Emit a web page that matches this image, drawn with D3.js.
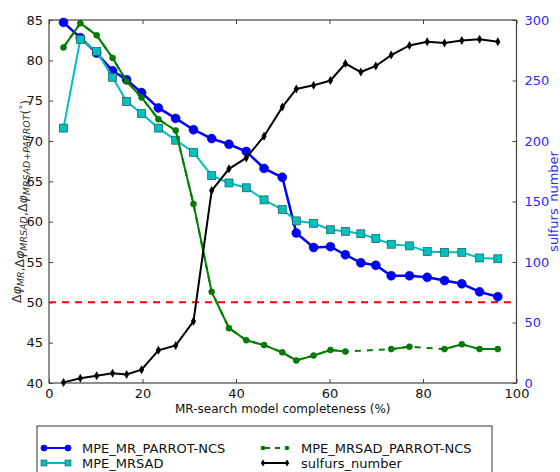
<!DOCTYPE html>
<html><head><meta charset="utf-8">
<script src="https://cdn.jsdelivr.net/npm/d3@7"></script>
<style>body{margin:0;background:#fff} text{font-family:"DejaVu Sans",sans-serif}</style>
</head><body><svg id="c" width="560" height="472"></svg>
<script>
const completeness = [3.1,6.7,10.2,13.6,16.6,19.8,23.4,27.1,30.9,34.8,38.5,42.2,46.0,49.9,52.9,56.6,60.2,63.4,66.7,69.9,73.2,77.1,80.9,84.6,88.3,92.1,96.0];
const mpeMR = [84.7,82.8,80.9,78.7,77.6,76.0,74.1,72.8,71.4,70.3,69.6,68.7,66.6,65.5,58.6,56.8,56.9,55.9,54.9,54.6,53.3,53.3,53.1,52.7,52.3,51.3,50.7];
const mpeMRSAD = [71.6,82.6,81.1,77.9,74.9,73.4,71.6,70.1,68.6,65.7,64.8,64.2,62.7,61.5,60.1,59.8,59.0,58.8,58.5,57.9,57.2,57.0,56.3,56.2,56.2,55.5,55.4];
const mpeMRSADParrot = [81.6,84.6,83.1,80.3,77.4,75.4,72.7,71.3,62.2,51.3,46.8,45.3,44.7,43.8,42.8,43.4,44.1,43.9,null,null,44.2,44.5,null,44.2,44.8,44.2,44.2];
const sulfurs = [0.5,4,6,8,7,11,27,31,51,159,177,186,204,228,243,246,250,264,257,262,271,279,282,281,283,284,282];
const threshold = 50;
const xTicks = [0,20,40,60,80,100];
const yTicks = [40,45,50,55,60,65,70,75,80,85];
const y2Ticks = [0,50,100,150,200,250,300];
const legendLabels = ["MPE_MR_PARROT-NCS","MPE_MRSAD","MPE_MRSAD_PARROT-NCS","sulfurs_number"];

const svg = d3.select("#c");
const L=49, R=516.5, T=20, B=383;
const x = d3.scaleLinear().domain([0,100]).range([L,R]);
const y = d3.scaleLinear().domain([40,85]).range([B,T]);
const y2 = d3.scaleLinear().domain([0,300]).range([B,T]);
const spine="#444", fs=13;

// axes
const bx = svg.append("g").attr("transform",`translate(0,${B})`).call(d3.axisBottom(x).tickValues(xTicks).tickSizeInner(-4).tickSizeOuter(0).tickPadding(6));
const tx = svg.append("g").attr("transform",`translate(0,${T})`).call(d3.axisTop(x).tickValues(xTicks).tickSizeInner(-4).tickSizeOuter(0).tickFormat(""));
const ly = svg.append("g").attr("transform",`translate(${L},0)`).call(d3.axisLeft(y).tickValues(yTicks).tickSizeInner(-4).tickSizeOuter(0).tickPadding(6));
const ry = svg.append("g").attr("transform",`translate(${R},0)`).call(d3.axisRight(y2).tickValues(y2Ticks).tickSizeInner(-4).tickSizeOuter(0).tickPadding(8));
[bx,tx,ly,ry].forEach(g=>{g.selectAll(".domain").remove();g.selectAll("line").attr("stroke",spine);g.selectAll("text").attr("font-size",fs).attr("fill","#111").attr("font-family","DejaVu Sans");});
ry.selectAll("text").attr("fill","#2a2aff");
svg.append("rect").attr("x",L).attr("y",T).attr("width",R-L).attr("height",B-T).attr("fill","none").attr("stroke",spine).attr("stroke-width",1.2);

const idx = d3.range(completeness.length);
const line = (ys,sc)=>d3.line().defined(i=>ys[i]!=null).x(i=>x(completeness[i])).y(i=>sc(ys[i]));

// threshold
svg.append("line").attr("x1",x(0)).attr("x2",x(100)).attr("y1",y(threshold)).attr("y2",y(threshold)).attr("stroke","#ff0000").attr("stroke-width",2).attr("stroke-dasharray","7,6");

const plot = svg.append("g");
// blue
plot.append("path").attr("d",line(mpeMR,y)(idx)).attr("fill","none").attr("stroke","#0000ff").attr("stroke-width",2.5);
plot.selectAll(".b").data(idx).enter().append("circle").attr("cx",i=>x(completeness[i])).attr("cy",i=>y(mpeMR[i])).attr("r",4.5).attr("fill","#0000ff").attr("stroke","#00008a").attr("stroke-width",0.5);
// cyan
plot.append("path").attr("d",line(mpeMRSAD,y)(idx)).attr("fill","none").attr("stroke","#00bfbf").attr("stroke-width",2);
plot.selectAll(".c").data(idx).enter().append("rect").attr("x",i=>x(completeness[i])-4).attr("y",i=>y(mpeMRSAD[i])-4).attr("width",8).attr("height",8).attr("fill","#00bfbf").attr("stroke","#1a5a5a").attr("stroke-width",0.7);
// green
const gIdx = idx.filter(i=>mpeMRSADParrot[i]!=null);
plot.append("path").attr("d",d3.line().x(i=>x(completeness[i])).y(i=>y(mpeMRSADParrot[i]))(gIdx)).attr("fill","none").attr("stroke","#008000").attr("stroke-width",2).attr("stroke-dasharray","6,6");
plot.append("path").attr("d",line(mpeMRSADParrot,y)(idx)).attr("fill","none").attr("stroke","#008000").attr("stroke-width",2);
plot.selectAll(".g").data(gIdx).enter().append("circle").attr("cx",i=>x(completeness[i])).attr("cy",i=>y(mpeMRSADParrot[i])).attr("r",3).attr("fill","#008000").attr("stroke","#005000").attr("stroke-width",0.5);
// black
plot.append("path").attr("d",line(sulfurs,y2)(idx)).attr("fill","none").attr("stroke","#000").attr("stroke-width",2);
const diamond = "M0,-4.5L2.6,0L0,4.5L-2.6,0Z";
plot.selectAll(".k").data(idx).enter().append("path").attr("d",diamond).attr("transform",i=>`translate(${x(completeness[i])},${y2(sulfurs[i])})`).attr("fill","#000");

// axis labels
svg.append("text").attr("x",(L+R)/2).attr("y",413).attr("text-anchor","middle").attr("font-size",12).attr("fill","#111").text("MR-search model completeness (%)");
svg.append("text").attr("transform",`translate(558,${(T+B)/2}) rotate(-90)`).attr("text-anchor","middle").attr("font-size",13).attr("fill","#2a2aff").text("sulfurs_number");
const yl = svg.append("text").attr("transform",`translate(21,${(T+B)/2}) rotate(-90)`).attr("text-anchor","middle").attr("font-size",12.5).attr("fill","#333");
const subs = ["MR","MRSAD","MRSAD+PARROT"];
subs.forEach((s,k)=>{
  yl.append("tspan").text((k?",":"")+"Δ");
  yl.append("tspan").attr("font-style","italic").text("φ");
  yl.append("tspan").attr("font-size",9.5).attr("font-style","italic").attr("dy",3).text(s);
  yl.append("tspan").attr("dy",-3).text("");
});
yl.append("tspan").text("(");
yl.append("tspan").attr("font-size",9.5).attr("dy",-4).text("°");
yl.append("tspan").attr("dy",4).text(")");

// legend
svg.append("rect").attr("x",37).attr("y",426).attr("width",455).attr("height",60).attr("fill","#fff").attr("stroke","#333").attr("stroke-width",1);
const legPos = [[44,448],[44,463],[263,448],[263,463]];
const lg = svg.append("g");
const diamondS = "M0,-3.5L2.2,0L0,3.5L-2.2,0Z";
legPos.forEach(([lx,ly2],k)=>{
  const g = lg.append("g").attr("transform",`translate(${lx},${ly2})`);
  const col = ["#0000ff","#00bfbf","#008000","#000"][k];
  g.append("line").attr("x1",0).attr("x2",24).attr("stroke",col).attr("stroke-width",2).attr("stroke-dasharray",k==2?"5,5":null).attr("stroke-dashoffset",k==2?-2:null);
  [0,24].forEach(px=>{
    if(k==0) g.append("circle").attr("cx",px).attr("r",3.3).attr("fill",col);
    if(k==1) g.append("rect").attr("x",px-3).attr("y",-3).attr("width",6).attr("height",6).attr("fill",col).attr("stroke","#1a5a5a").attr("stroke-width",0.6);
    if(k==2) g.append("circle").attr("cx",px).attr("r",2.3).attr("fill",col);
    if(k==3) g.append("path").attr("d",diamondS).attr("transform",`translate(${px},0)`).attr("fill",col);
  });
  g.append("text").attr("x",38).attr("y",4.5).attr("font-size",13).attr("fill","#111").text(legendLabels[k]);
});
</script></body></html>
